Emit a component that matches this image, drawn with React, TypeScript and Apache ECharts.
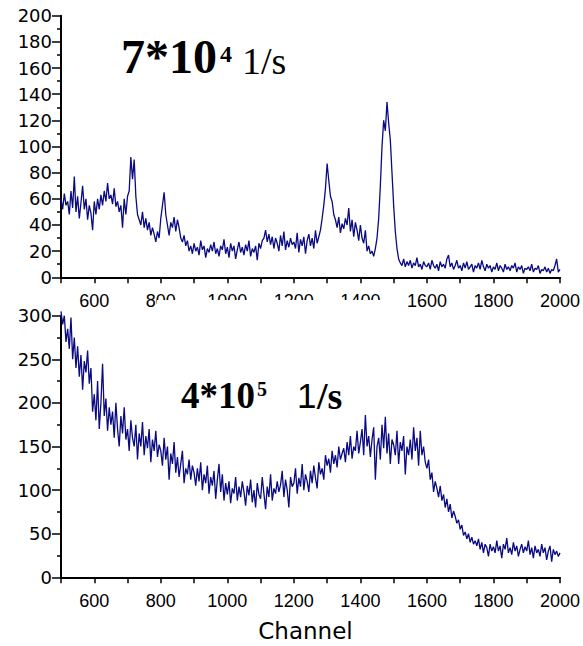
import React, { useEffect, useRef } from "react";
import * as echarts from "echarts";

// Channel axis sampling
const CHANNEL_START = 500;
const CHANNEL_STEP = 5;

// Top spectrum (7*10^4 1/s), counts every 5 channels from 500 to 2000
const topCounts: number[] = [
  60, 52, 64, 55, 58, 48, 66, 53, 77, 50,
  62, 45, 57, 70, 52, 60, 44, 55, 49, 36,
  58, 48, 60, 52, 63, 55, 66, 58, 72, 60,
  63, 56, 68, 54, 58, 50, 55, 38, 60, 48,
  62, 66, 92, 75, 90, 62, 48, 44, 40, 50,
  38, 45, 36, 42, 32, 38, 33, 27, 35, 30,
  45, 55, 65, 48, 40, 32, 42, 38, 46, 35,
  44, 38, 30, 27, 32, 24, 28, 20, 24, 18,
  26, 20, 23, 17, 28, 21, 24, 15, 22, 19,
  25, 20, 27, 18, 22, 16, 24, 21, 29, 18,
  23, 15, 26, 20, 24, 14, 21, 27, 19, 23,
  17, 25, 20, 28, 16, 22, 19, 24, 13, 26,
  22, 28, 30, 36, 27, 33, 25, 31, 22, 30,
  26, 20, 32, 24, 35, 21, 28, 23, 30, 25,
  27, 22, 34, 19, 29, 24, 31, 18, 28, 33,
  24, 30, 22, 36, 26, 31, 36, 45, 55, 68,
  87, 74, 62, 58, 48, 44, 38, 46, 34, 41,
  37, 45, 40, 53, 35, 44, 31, 42, 36, 28,
  40, 30, 26, 36, 20, 24, 18, 20, 16, 22,
  30, 45, 70, 100, 120, 112, 134, 118, 105, 80,
  55, 35, 22, 14, 11, 9, 14, 8, 12, 9,
  13, 7, 11, 9, 15, 8, 10, 6, 12, 9,
  8, 11, 6, 13, 9, 7, 10, 5, 12, 8,
  10, 7, 14, 17, 8, 11, 6, 9, 13, 7,
  9, 5, 11, 7, 12, 6, 8, 10, 4, 9,
  7, 11, 6, 13, 8, 5, 10, 7, 9, 4,
  8, 6, 11, 5, 9, 7, 4, 10, 6, 8,
  5, 9, 7, 11, 4, 8, 6, 9, 3, 7,
  6, 8, 5, 10, 4, 7, 6, 9, 3, 6,
  5, 8, 4, 7, 3, 6, 5, 9, 14, 4,
  6,
];

// Bottom spectrum (4*10^5 1/s)
const bottomCounts: number[] = [
  305, 290, 300, 270, 285, 262, 298, 250, 275, 240,
  265, 230, 255, 215, 248, 235, 260, 222, 240, 190,
  210, 180, 225, 170, 200, 245, 185, 205, 168, 195,
  175, 190, 160, 200, 170, 150, 185, 165, 195, 158,
  170, 145, 180, 160, 150, 175, 135, 165, 150, 178,
  140, 162, 148, 170, 132, 158, 145, 168, 138, 152,
  145, 128, 160, 135, 150, 112, 142, 130, 155, 120,
  138, 115, 130, 145, 108, 125, 118, 135, 112, 128,
  120, 105, 125, 110, 132, 100, 118, 108, 128, 96,
  115, 105, 122, 90, 112, 130, 98, 118, 88, 108,
  95, 110, 85, 102, 96, 115, 88, 104, 92, 110,
  98, 82, 105, 94, 112, 86, 100, 80, 108, 95,
  90, 115, 96, 78, 104, 92, 118, 88, 102, 96,
  110, 98, 106, 122, 92, 112, 100, 80, 115, 104,
  108, 125, 96, 114, 104, 130, 100, 118, 110, 98,
  122, 108, 128, 114, 102, 132, 118, 125, 112, 140,
  128, 136, 120, 145, 130, 140, 126, 150, 135, 142,
  148, 132, 155, 140, 162, 136, 150, 145, 168, 142,
  155, 170, 140, 186, 150, 162, 138, 158, 172, 112,
  150, 160, 135, 175, 148, 184, 142, 165, 130, 158,
  152, 140, 168, 130, 155, 145, 162, 118, 150, 140,
  158, 135, 172, 145, 160, 128, 168, 140, 150, 132,
  125, 135, 112, 120, 98, 110, 102, 92, 105, 88,
  95, 80, 90, 75, 84, 68, 76, 70, 62, 66,
  55, 60, 48, 52, 44, 50, 40, 46, 38, 42,
  36, 44, 32, 40, 28, 38, 34, 24, 38, 30,
  35, 28, 42, 30, 36, 22, 38, 32, 45, 28,
  34, 26, 40, 30, 36, 24, 32, 38, 28, 35,
  30, 42, 26, 34, 22, 36, 28, 32, 24, 38,
  28, 34, 20, 30, 36, 18, 32, 26, 30, 24,
  28,
];

const X_MIN = 500;
const X_MAX = 2000;
const X_TICK = 100;
const X_LABEL_EVERY = 200;
const TOP_Y_MAX = 200;
const TOP_Y_TICK = 20;
const BOTTOM_Y_MAX = 300;
const BOTTOM_Y_TICK = 50;
const X_TITLE = "Channel";

const LINE_COLOR = "#0a0a82";

function toPairs(values: number[]): [number, number][] {
  return values.map((v, i) => [CHANNEL_START + i * CHANNEL_STEP, v]);
}

export default function App() {
  const ref = useRef<HTMLDivElement>(null);

  useEffect(() => {
    if (!ref.current) return;
    const chart = echarts.init(ref.current, undefined, { renderer: "svg" });

    const axisLineStyle = { color: "#000", width: 2 };
    const xAxisBase = (gridIndex: number, withName: boolean) => ({
      type: "value" as const,
      gridIndex,
      min: X_MIN,
      max: X_MAX,
      interval: X_TICK,
      splitLine: { show: false },
      axisLine: { show: true, onZero: false, lineStyle: axisLineStyle },
      axisTick: { show: true, length: 6, lineStyle: { color: "#000", width: 1.5 } },
      axisLabel: {
        margin: 15,
        color: "#000",
        fontFamily: "Liberation Sans, Arial",
        fontSize: 18,
        formatter: (v: number) => (v % X_LABEL_EVERY === 0 ? String(v) : ""),
      },
      ...(withName
        ? {
            name: X_TITLE,
            nameLocation: "middle" as const,
            nameGap: 42,
            nameTextStyle: {
              color: "#000",
              fontFamily: "DejaVu Sans",
              fontSize: 23,
              padding: [0, 10, 0, 0],
            },
          }
        : {}),
    });
    const yAxisBase = (gridIndex: number, max: number, interval: number) => ({
      type: "value" as const,
      gridIndex,
      min: 0,
      max,
      interval,
      splitLine: { show: false },
      axisLine: { show: true, onZero: false, lineStyle: axisLineStyle },
      axisTick: { show: true, length: 9, lineStyle: { color: "#000", width: 1.5 } },
      minorTick: { show: true, splitNumber: 2, length: 4, lineStyle: { color: "#000", width: 1.5 } },
      axisLabel: {
        margin: 9,
        color: "#000",
        fontFamily: "DejaVu Sans",
        fontSize: 18,
        padding: [3, 0, 0, 0],
      },
    });

    const serif = '"Liberation Serif", "Times New Roman", serif';
    const sans = '"Liberation Sans", Arial, sans-serif';

    chart.setOption({
      animation: false,
      backgroundColor: "#fff",
      grid: [
        { left: 61, top: 15.7, width: 500, height: 261.6 },
        { left: 61, top: 315.7, width: 500, height: 261.6 },
      ],
      xAxis: [xAxisBase(0, false), xAxisBase(1, true)],
      yAxis: [yAxisBase(0, TOP_Y_MAX, TOP_Y_TICK), yAxisBase(1, BOTTOM_Y_MAX, BOTTOM_Y_TICK)],
      series: [
        {
          type: "line",
          xAxisIndex: 0,
          yAxisIndex: 0,
          data: toPairs(topCounts),
          showSymbol: false,
          clip: false,
          lineStyle: { color: LINE_COLOR, width: 1.3 },
        },
        {
          type: "line",
          xAxisIndex: 1,
          yAxisIndex: 1,
          data: toPairs(bottomCounts),
          showSymbol: false,
          clip: false,
          lineStyle: { color: LINE_COLOR, width: 1.3 },
        },
      ],
      graphic: [
        {
          type: "rect",
          z: 100,
          shape: { x: 157, y: 300, width: 238, height: 13 },
          style: { fill: "#fff" },
        },
        {
          type: "text",
          z: 101,
          x: 121,
          y: 56.5,
          style: {
            text: "7*10",
            font: `bold 48px ${serif}`,
            fill: "#000",
            verticalAlign: "middle",
          },
        },
        {
          type: "text",
          z: 101,
          x: 220,
          y: 53.5,
          style: {
            text: "4",
            font: `bold 24px ${serif}`,
            fill: "#000",
            verticalAlign: "middle",
          },
        },
        {
          type: "text",
          z: 101,
          x: 242,
          y: 60.5,
          style: {
            text: "1/s",
            font: `38px ${serif}`,
            fill: "#000",
            verticalAlign: "middle",
          },
        },
        {
          type: "text",
          z: 101,
          x: 181,
          y: 395.5,
          style: {
            text: "4*10",
            font: `bold 37px ${serif}`,
            fill: "#000",
            verticalAlign: "middle",
          },
        },
        {
          type: "text",
          z: 101,
          x: 257,
          y: 389,
          style: {
            text: "5",
            font: `bold 20px ${serif}`,
            fill: "#000",
            verticalAlign: "middle",
          },
        },
        {
          type: "text",
          z: 101,
          x: 297,
          y: 395.5,
          style: {
            text: "1",
            font: `35px ${sans}`,
            fill: "#000",
            verticalAlign: "middle",
          },
        },
        {
          type: "text",
          z: 101,
          x: 317,
          y: 395.5,
          style: {
            text: "/s",
            font: `bold 38px ${serif}`,
            fill: "#000",
            verticalAlign: "middle",
          },
        },
      ],
    });

    return () => chart.dispose();
  }, []);

  return (
    <div
      ref={ref}
      style={{ position: "fixed", left: 0, top: 0, width: 583, height: 646, background: "#fff" }}
    />
  );
}
